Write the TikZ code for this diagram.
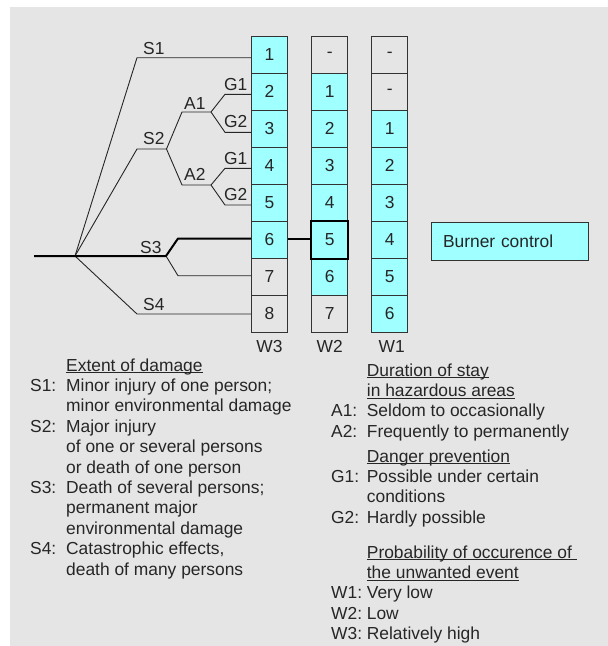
\documentclass[tikz,border=0pt]{standalone}
\usepackage{fontspec}
\setmainfont{Liberation Sans}
\usetikzlibrary{positioning,calc}
\definecolor{panelgrey}{HTML}{E5E5E5}
\definecolor{boxcyan}{HTML}{A0FFFF}
\definecolor{inkgrey}{HTML}{262626}
\newcommand{\ulbl}[1]{\underline{\smash{#1}}}
\tikzset
{
    cellnode/.style    = {rectangle, draw=black!80, line width=0.9pt, minimum width=36pt, minimum height=37pt, inner sep=0pt, fill=panelgrey},
    cyancell/.style    = {cellnode, fill=boxcyan},
    greycell/.style    = {cellnode},
    branch/.style      = {draw=inkgrey, line width=0.9pt},
    mainbranch/.style  = {draw=black, line width=2pt, line join=round},
    branchlabel/.style = {anchor=base west, inner sep=0pt},
    legendnode/.style  = {anchor=base west, inner sep=0pt}
}

\begin{document}
\begin{tikzpicture}[x=1pt, y=-1pt, every node/.style={font=\fontsize{17.4pt}{20.4pt}\selectfont, text=inkgrey}]
\useasboundingbox (0,0) rectangle (608,646);
\fill[panelgrey] (10,7) rectangle (608,646);

\foreach \txt/\kind [count=\r] in {1/cyan,2/cyan,3/cyan,4/cyan,5/cyan,6/cyan,7/grey,8/grey}
    \node[\kind cell] (w3-\r) at (269.5,17.8+37*\r) {\txt};
\foreach \txt/\kind [count=\r] in {-/grey,1/cyan,2/cyan,3/cyan,4/cyan,5/cyan,6/cyan,7/grey}
    \node[\kind cell] (w2-\r) at (329.7,17.8+37*\r) {\txt};
\foreach \txt/\kind [count=\r] in {-/grey,-/grey,1/cyan,2/cyan,3/cyan,4/cyan,5/cyan,6/cyan}
    \node[\kind cell] (w1-\r) at (389.7,17.8+37*\r) {\txt};
\draw[black, line width=2pt] (w2-6.south west) rectangle (w2-6.north east);

\node[anchor=base] (lw3) at ([yshift=-19.7pt]w3-8.south) {W3};
\node[anchor=base] (lw2) at ([yshift=-19.7pt]w2-8.south) {W2};
\node[anchor=base] (lw1) at ([xshift=2pt,yshift=-19.7pt]w1-8.south) {W1};

\node[cyancell, minimum width=156.6pt, minimum height=37.3pt, text width=134pt, inner xsep=11.3pt, align=left] (burner) at (510,241.3) {Burner control};

\coordinate (start) at (34,256);
\coordinate (root) at (75,256);
\coordinate (s1) at (137,57.7);
\coordinate (s2) at (137,149);
\coordinate (s2e) at (166.5,149);
\coordinate (a1) at (182,112);
\coordinate (a1e) at (211,112);
\coordinate (a2) at (182,185);
\coordinate (a2e) at (211,185);
\coordinate (g11) at (225,94.3);
\coordinate (g12) at (225,132.3);
\coordinate (g21) at (225,168.3);
\coordinate (g22) at (225,205);
\coordinate (s3) at (166,256);
\coordinate (s3up) at (178,238.5);
\coordinate (s3dn) at (178,275.7);
\coordinate (s4) at (137,314);

\draw[branch] (root) -- (s1) -- (s1 -| w3-1.west);
\draw[branch] (root) -- (s2) -- (s2e);
\draw[branch] (s2e) -- (a1) -- (a1e);
\draw[branch] (s2e) -- (a2) -- (a2e);
\draw[branch] (a1e) -- (g11) -- (g11 -| w3-2.west);
\draw[branch] (a1e) -- (g12) -- (g12 -| w3-3.west);
\draw[branch] (a2e) -- (g21) -- (g21 -| w3-4.west);
\draw[branch] (a2e) -- (g22) -- (g22 -| w3-5.west);
\draw[branch] (s3) -- (s3dn) -- (s3dn -| w3-7.west);
\draw[branch] (root) -- (s4) -- (s4 -| w3-8.west);
\draw[mainbranch] (start) -- (root) -- (s3) -- (s3up) -- (s3up -| w3-6.west);
\draw[mainbranch] (s3up -| w3-6.east) -- (s3up -| w2-6.west);

\node[branchlabel] (l-s1) at (143,54) {S1};
\node[branchlabel] (l-s2) at (143,144) {S2};
\node[branchlabel] (l-a1) at (184,109) {A1};
\node[branchlabel] (l-a2) at (184,180.5) {A2};
\node[branchlabel] (l-g11) at (224,90.5) {G1};
\node[branchlabel] (l-g12) at (224,127.5) {G2};
\node[branchlabel] (l-g21) at (224,164.5) {G1};
\node[branchlabel] (l-g22) at (224,200.5) {G2};
\node[branchlabel] (l-s3) at (140,253) {S3};
\node[branchlabel] (l-s4) at (143,310) {S4};

\node[legendnode] (dmglegend) at (30,371) {\begin{tabular}[t]{@{}p{36pt}@{}l@{}}
 & \ulbl{Extent of damage}\\
S1: & Minor injury of one person;\\
 & minor environmental damage\\
S2: & Major injury\\
 & of one or several persons\\
 & or death of one person\\
S3: & Death of several persons;\\
 & permanent major\\
 & environmental damage\\
S4: & Catastrophic effects,\\
 & death of many persons
\end{tabular}};

\node[legendnode] (riskleg) at (331,376) {\begin{tabular}[t]{@{}p{35.7pt}@{}l@{}}
 & \ulbl{Duration of stay}\\
 & \ulbl{in hazardous areas}\\
A1: & Seldom to occasionally\\
A2: & Frequently to permanently\\[4.4pt]
 & \ulbl{Danger prevention}\\
G1: & Possible under certain\\
 & conditions\\
G2: & Hardly possible\\[14.4pt]
 & \ulbl{Probability of occurence of\ }\\
 & \ulbl{the unwanted event}\\
W1: & Very low\\
W2: & Low\\
W3: & Relatively high
\end{tabular}};
\end{tikzpicture}
\end{document}
